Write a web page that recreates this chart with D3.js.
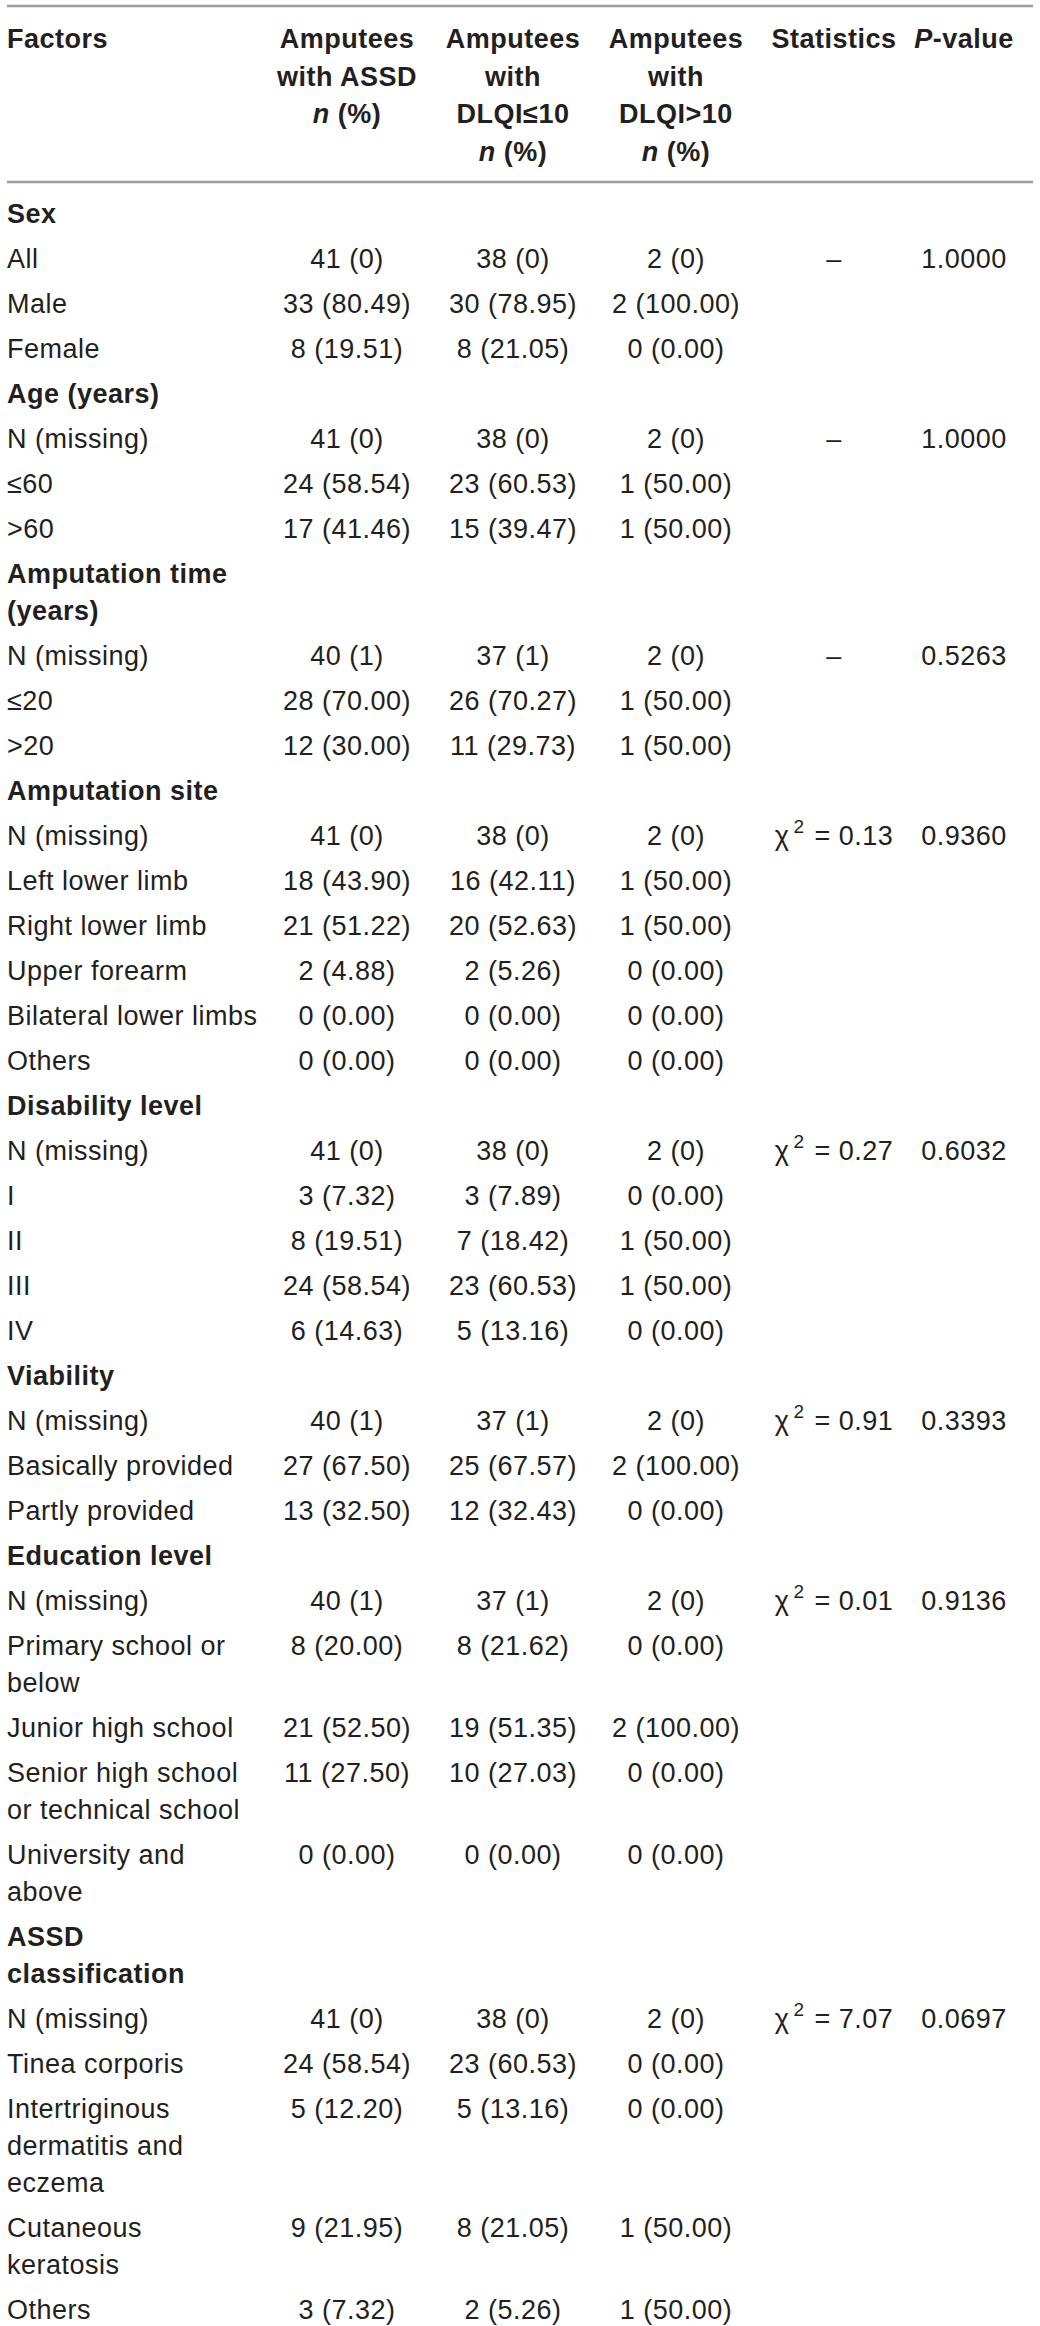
<!DOCTYPE html>
<html>
<head>
<meta charset="utf-8">
<script src="https://cdn.jsdelivr.net/npm/d3@7"></script>
<style>
  body { margin: 0; background: #fff; }
  svg text { font-family: "Liberation Sans", Arial, sans-serif; fill: #231f20; }
</style>
</head>
<body>
<div id="table"></div>
<script>
// header cells, "|" breaks a line, "*" marks an italic tspan
var headers = ["Factors", "Amputees|with ASSD|*n* (%)", "Amputees|with|DLQI≤10|*n* (%)",
               "Amputees|with|DLQI>10|*n* (%)", "Statistics", "*P*-value"];

var groups = ["Sex", "Age (years)", "Amputation time|(years)", "Amputation site",
              "Disability level", "Viability", "Education level", "ASSD|classification"];

var rowLabels = [
  ["All", "Male", "Female"],
  ["N (missing)", "≤60", ">60"],
  ["N (missing)", "≤20", ">20"],
  ["N (missing)", "Left lower limb", "Right lower limb", "Upper forearm", "Bilateral lower limbs", "Others"],
  ["N (missing)", "I", "II", "III", "IV"],
  ["N (missing)", "Basically provided", "Partly provided"],
  ["N (missing)", "Primary school or|below", "Junior high school", "Senior high school|or technical school", "University and|above"],
  ["N (missing)", "Tinea corporis", "Intertriginous|dermatitis and|eczema", "Cutaneous|keratosis", "Others"]
];

var assd = [
  ["41 (0)", "33 (80.49)", "8 (19.51)"],
  ["41 (0)", "24 (58.54)", "17 (41.46)"],
  ["40 (1)", "28 (70.00)", "12 (30.00)"],
  ["41 (0)", "18 (43.90)", "21 (51.22)", "2 (4.88)", "0 (0.00)", "0 (0.00)"],
  ["41 (0)", "3 (7.32)", "8 (19.51)", "24 (58.54)", "6 (14.63)"],
  ["40 (1)", "27 (67.50)", "13 (32.50)"],
  ["40 (1)", "8 (20.00)", "21 (52.50)", "11 (27.50)", "0 (0.00)"],
  ["41 (0)", "24 (58.54)", "5 (12.20)", "9 (21.95)", "3 (7.32)"]
];

var dlqiLow = [
  ["38 (0)", "30 (78.95)", "8 (21.05)"],
  ["38 (0)", "23 (60.53)", "15 (39.47)"],
  ["37 (1)", "26 (70.27)", "11 (29.73)"],
  ["38 (0)", "16 (42.11)", "20 (52.63)", "2 (5.26)", "0 (0.00)", "0 (0.00)"],
  ["38 (0)", "3 (7.89)", "7 (18.42)", "23 (60.53)", "5 (13.16)"],
  ["37 (1)", "25 (67.57)", "12 (32.43)"],
  ["37 (1)", "8 (21.62)", "19 (51.35)", "10 (27.03)", "0 (0.00)"],
  ["38 (0)", "23 (60.53)", "5 (13.16)", "8 (21.05)", "2 (5.26)"]
];

var dlqiHigh = [
  ["2 (0)", "2 (100.00)", "0 (0.00)"],
  ["2 (0)", "1 (50.00)", "1 (50.00)"],
  ["2 (0)", "1 (50.00)", "1 (50.00)"],
  ["2 (0)", "1 (50.00)", "1 (50.00)", "0 (0.00)", "0 (0.00)", "0 (0.00)"],
  ["2 (0)", "0 (0.00)", "1 (50.00)", "1 (50.00)", "0 (0.00)"],
  ["2 (0)", "2 (100.00)", "0 (0.00)"],
  ["2 (0)", "0 (0.00)", "2 (100.00)", "0 (0.00)", "0 (0.00)"],
  ["2 (0)", "0 (0.00)", "0 (0.00)", "1 (50.00)", "1 (50.00)"]
];

// chi-square value per group (null = no test, shown as a dash)
var chiSquare = [null, null, null, 0.13, 0.27, 0.91, 0.01, 7.07];
var pValues = ["1.0000", "1.0000", "0.5263", "0.9360", "0.6032", "0.3393", "0.9136", "0.0697"];

var w = 1040, h = 2326;
var fontSize = 27;
var rowStep = 45, wrapStep = 37; // new row vs wrapped line

var svg = d3.select('#table').append('svg').attr('width', w).attr('height', h);

var x = d3.scaleOrdinal()
  .domain(["label", "assd", "low", "high", "stat", "p"])
  .range([7, 347, 513, 676, 834, 964]);

// put "*x*" parts in italic tspans
function richText(sel, str){
  str.split("*").forEach(function(part, i){
    if(part === "") return;
    sel.append('tspan').style('font-style', i % 2 ? 'italic' : null).text(part);
  });
}

function cell(y0, key){
  return svg.append('text')
    .attr('x', x(key))
    .attr('y', y0)
    .attr('text-anchor', key === "label" ? 'start' : 'middle')
    .style('font-size', fontSize + 'px')
    .style('letter-spacing', '0.5px');
}

function multiLine(y0, key, str, bold, step){
  str.split("|").forEach(function(line, i){
    var t = cell(y0 + i * step, key).style('font-weight', bold ? 'bold' : null);
    richText(t, line);
  });
}

// rules
var rule = function(y){
  svg.append('line').attr('x1', 7).attr('x2', 1033).attr('y1', y).attr('y2', y)
    .attr('stroke', '#9d9d9d').attr('stroke-width', 2.5);
};
rule(6);
rule(182);

// header
x.domain().forEach(function(key, i){
  multiLine(48, key, headers[i], true, 37.5);
});

// body
var y = 223;
groups.forEach(function(g, gi){
  multiLine(y, "label", g, true, wrapStep);
  y += rowStep + wrapStep * (g.split("|").length - 1);
  rowLabels[gi].forEach(function(lab, ri){
    multiLine(y, "label", lab, false, wrapStep);
    multiLine(y, "assd", assd[gi][ri], false, wrapStep);
    multiLine(y, "low", dlqiLow[gi][ri], false, wrapStep);
    multiLine(y, "high", dlqiHigh[gi][ri], false, wrapStep);
    if(ri === 0){
      var c = chiSquare[gi];
      var st = cell(y, "stat");
      if(c === null){
        st.text("–");
      } else {
        st.append('tspan').text("χ");
        st.append('tspan').attr('dx', 4).attr('dy', -12).style('font-size', '19px').text("2");
        st.append('tspan').attr('dx', 2).attr('dy', 12).text(" = " + d3.format(".2f")(c));
      }
      multiLine(y, "p", pValues[gi], false, wrapStep);
    }
    y += rowStep + wrapStep * (lab.split("|").length - 1);
  });
});
</script>
</body>
</html>
